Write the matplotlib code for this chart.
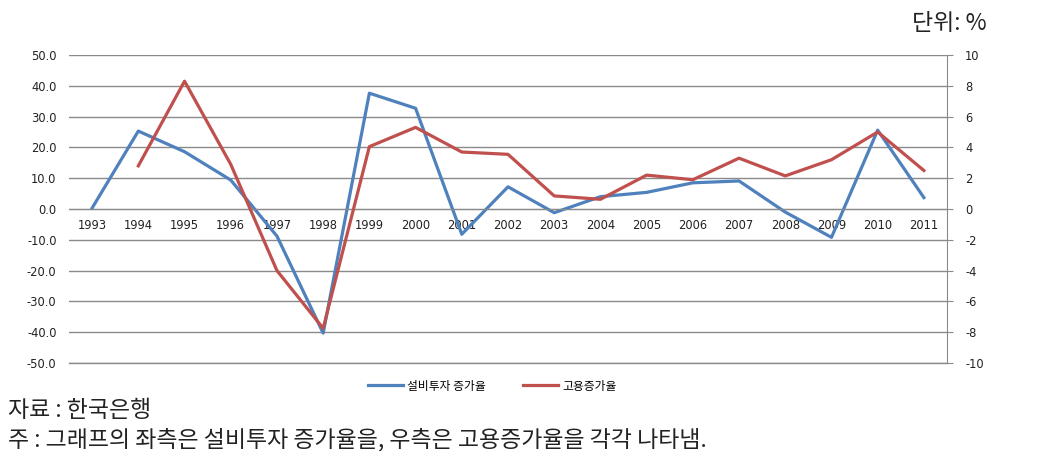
import numpy as np
import matplotlib.pyplot as plt

plt.rcParams['font.family'] = ['Noto Sans CJK KR', 'DejaVu Sans']

years = ['1993', '1994', '1995', '1996', '1997', '1998', '1999', '2000', '2001', '2002',
         '2003', '2004', '2005', '2006', '2007', '2008', '2009', '2010', '2011']
invest = [0.3, 25.3, 18.6, 9.4, -8.8, -40.3, 37.6, 32.7, -8.2, 7.2,
          -1.2, 4.0, 5.4, 8.5, 9.1, -1.0, -9.2, 25.6, 3.7]
# employment starts in 1994
employ = [np.nan, 2.8, 8.3, 2.9, -4.0, -7.75, 4.05, 5.3, 3.7, 3.55,
          0.85, 0.63, 2.2, 1.9, 3.3, 2.15, 3.2, 5.0, 2.5]

blue = '#4F81BD'
red = '#C0504D'
tick_font = dict(family='DejaVu Sans', size=8.3)

fig = plt.figure(figsize=(10.5, 4.61), dpi=100)
ax = fig.add_axes([69/1050, 1-363/461, 878/1050, 308/461])
x = np.arange(len(years))

ax.set_xlim(-0.5, len(years) - 0.5)
ax.set_ylim(-50, 50)
ax.set_yticks(np.arange(-50, 51, 10))
ax.set_yticklabels([f'{v:.1f}' for v in np.arange(-50, 51, 10)], fontdict=tick_font, color='#222222')
ax.grid(axis='y', color='#8a8a8a', lw=1)
ax.axhline(-50, color='#8a8a8a', lw=1, clip_on=False, zorder=0)
ax.set_axisbelow(True)
for s in ['top', 'left', 'right']:
    ax.spines[s].set_visible(False)
ax.spines['bottom'].set_position(('data', 0))
ax.spines['bottom'].set_color('#8a8a8a')
ax.tick_params(axis='y', length=0, pad=9)
ax.set_xticks(x)
ax.set_xticklabels(years, fontdict=tick_font, color='#222222')
ax.tick_params(axis='x', length=0, pad=7)

ax2 = ax.twinx()
ax2.set_ylim(-10, 10)
ax2.set_yticks(np.arange(-10, 11, 2))
ax2.set_yticklabels([str(v) for v in range(-10, 11, 2)], fontdict=tick_font, color='#222222')
for s in ['top', 'left', 'bottom']:
    ax2.spines[s].set_visible(False)
ax2.spines['right'].set_color('#8a8a8a')
ax2.tick_params(axis='y', length=4, color='#8a8a8a', pad=9)

l1, = ax.plot(x, invest, color=blue, lw=2.3, label='설비투자 증가율')
l2, = ax2.plot(x, employ, color=red, lw=2.3, label='고용증가율')

fig.legend(handles=[l1, l2], loc='center', bbox_to_anchor=(492/1050, 1-386/461),
           ncol=2, frameon=False, fontsize=8.5, handlelength=3, columnspacing=3.2,
           handletextpad=0.3)

fig.text(949/1050, 1-24/461, '단위: %', fontsize=16.5, ha='center', va='center', color='#222222')
fig.text(8/1050, 1-410/461, '자료 : 한국은행', fontsize=16.5, ha='left', va='center', color='#222222')
fig.text(8/1050, 1-440/461, '주 : 그래프의 좌측은 설비투자 증가율을, 우측은 고용증가율을 각각 나타냄.',
         fontsize=16.5, ha='left', va='center', color='#222222')

fig.savefig('out.png', dpi=100)
